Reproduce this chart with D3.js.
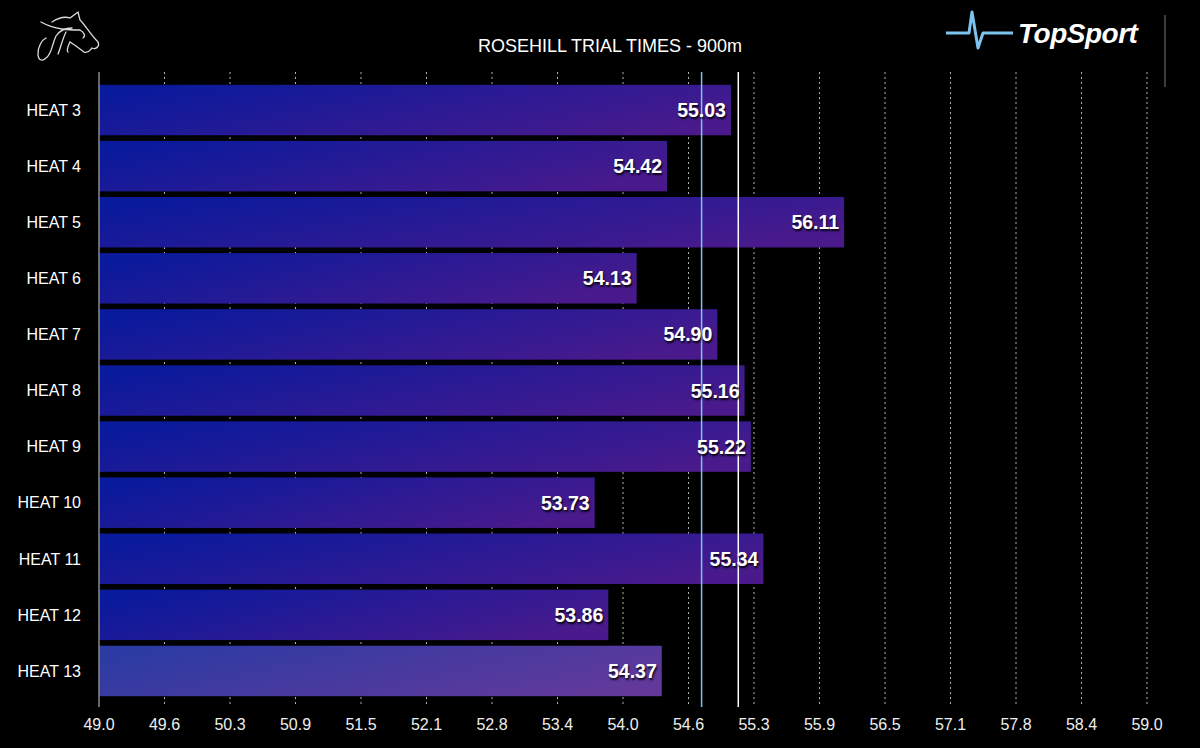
<!DOCTYPE html>
<html>
<head>
<meta charset="utf-8">
<script src="https://cdn.jsdelivr.net/npm/d3@7.9.0/dist/d3.min.js"></script>
<style>
  body { margin: 0; background: #000; }
  svg { display: block; font-family: "Liberation Sans", Arial, sans-serif; }
</style>
</head>
<body>
<svg id="chart" width="1200" height="748"></svg>
<script>
// chart data
const heats = ['HEAT 3', 'HEAT 4', 'HEAT 5', 'HEAT 6', 'HEAT 7', 'HEAT 8', 'HEAT 9', 'HEAT 10', 'HEAT 11', 'HEAT 12', 'HEAT 13'];
const times = [55.03, 54.42, 56.11, 54.13, 54.90, 55.16, 55.22, 53.73, 55.34, 53.86, 54.37];
const tickValues = [49.0, 49.625, 50.25, 50.875, 51.5, 52.125, 52.75, 53.375, 54.0, 54.625, 55.25, 55.875, 56.5, 57.125, 57.75, 58.375, 59.0];
const averageLine = 54.75;   // blue line
const benchmarkLine = 55.1;  // white line
const highlighted = 'HEAT 13';

const svg = d3.select('#chart');
const margin = { top: 72, right: 53, bottom: 41, left: 99 };
const W = 1200, H = 748;

const x = d3.scaleLinear().domain([49, 59]).range([margin.left, W - margin.right]);
const y = d3.scaleBand().domain(heats).range([82, 699]).paddingInner(0.1).paddingOuter(0.05);

const defs = svg.append('defs');
function grad(id, c1, c2) {
    let g = defs.append('linearGradient').attr('id', id)
        .attr('x1', '0%').attr('y1', '30%').attr('x2', '100%').attr('y2', '70%');
    g.append('stop').attr('offset', '0%').attr('stop-color', c1);
    g.append('stop').attr('offset', '100%').attr('stop-color', c2);
}
grad('barGrad', '#0a1a9c', '#4a1a8c');
grad('barGradHi', '#2c3ba3', '#62399b');

// grid lines (dotted)
svg.append('g').selectAll('line')
    .data(tickValues.slice(1))
    .join('line')
    .attr('x1', d => x(d)).attr('x2', d => x(d))
    .attr('y1', margin.top).attr('y2', H - margin.bottom)
    .attr('stroke', '#b0b0b0')
    .attr('stroke-width', 1)
    .attr('stroke-dasharray', '2,3');

// bars
svg.append('g').selectAll('rect')
    .data(heats)
    .join('rect')
    .attr('x', x(49))
    .attr('y', d => y(d))
    .attr('width', (d, i) => x(times[i]) - x(49))
    .attr('height', y.bandwidth())
    .attr('fill', d => d === highlighted ? 'url(#barGradHi)' : 'url(#barGrad)');

// reference lines
svg.append('line')
    .attr('x1', x(averageLine)).attr('x2', x(averageLine))
    .attr('y1', margin.top).attr('y2', H - margin.bottom)
    .attr('stroke', '#7cc4f0').attr('stroke-width', 1.5);
svg.append('line')
    .attr('x1', x(benchmarkLine)).attr('x2', x(benchmarkLine))
    .attr('y1', margin.top).attr('y2', H - margin.bottom)
    .attr('stroke', '#ffffff').attr('stroke-width', 1.5);

// value labels
svg.append('g').selectAll('text')
    .data(heats)
    .join('text')
    .attr('x', (d, i) => x(times[i]) - 5)
    .attr('y', d => y(d) + y.bandwidth() / 2)
    .attr('dy', '0.36em')
    .attr('text-anchor', 'end')
    .attr('fill', '#fff')
    .attr('font-size', 19.5)
    .attr('font-weight', 'bold')
    .style('text-shadow', '1px 2px 2px rgba(0,0,0,0.9)')
    .text((d, i) => times[i].toFixed(2));

// category labels
svg.append('g').selectAll('text')
    .data(heats)
    .join('text')
    .attr('x', 81)
    .attr('y', d => y(d) + y.bandwidth() / 2)
    .attr('dy', '0.36em')
    .attr('text-anchor', 'end')
    .attr('fill', '#fff')
    .attr('font-size', 16)
    .text(d => d);

// left axis line
svg.append('line')
    .attr('x1', x(49)).attr('x2', x(49))
    .attr('y1', margin.top).attr('y2', H - margin.bottom)
    .attr('stroke', '#8a8a8a').attr('stroke-width', 1.5);

// x tick labels
svg.append('g').selectAll('text')
    .data(tickValues)
    .join('text')
    .attr('x', d => x(d))
    .attr('y', 730)
    .attr('text-anchor', 'middle')
    .attr('fill', '#eee')
    .attr('font-size', 16)
    .text(d => d3.format('.1f')(d));

// title
svg.append('text')
    .attr('x', 610).attr('y', 52)
    .attr('text-anchor', 'middle')
    .attr('fill', '#fff')
    .attr('font-size', 18)
    .text('ROSEHILL TRIAL TIMES - 900m');

// right edge line
svg.append('line')
    .attr('x1', 1165).attr('x2', 1165).attr('y1', 15).attr('y2', 87)
    .attr('stroke', '#666').attr('stroke-width', 1.2);

// TopSport logo
svg.append('path')
    .attr('d', 'M946,33 L969,33 L972,12 L978,48 L983,33 L1013,33')
    .attr('fill', 'none')
    .attr('stroke', '#7cc4f0')
    .attr('stroke-width', 3)
    .attr('stroke-linejoin', 'round');
svg.append('text')
    .attr('x', 1018).attr('y', 43)
    .attr('fill', '#fff')
    .attr('font-size', 28)
    .attr('font-weight', 'bold')
    .attr('font-style', 'italic')
    .attr('letter-spacing', -0.5)
    .text('TopSport');

// horse logo (sketch)
const horse = svg.append('g').attr('fill', 'none').attr('stroke', '#ddd').attr('stroke-width', 1.3).attr('stroke-linecap', 'round');
horse.append('path').attr('d', 'M41,22 C55,30 70,30 80,30 C84,32 86,36 83,38');
horse.append('path').attr('d', 'M52,22 C58,18 64,16 70,18 L78,12 L80,20 C86,26 90,34 98,42 C100,46 96,50 92,48 C90,50 88,54 84,52 L76,46 L70,42');
horse.append('path').attr('d', 'M72,28 C66,28 60,30 56,36 C52,44 52,54 46,58 C42,62 38,60 38,54 C38,46 42,40 46,38');
horse.append('path').attr('d', 'M66,32 C62,40 60,50 58,54');
horse.append('path').attr('d', 'M70,42 C68,46 66,50 68,52');
</script>
</body>
</html>
